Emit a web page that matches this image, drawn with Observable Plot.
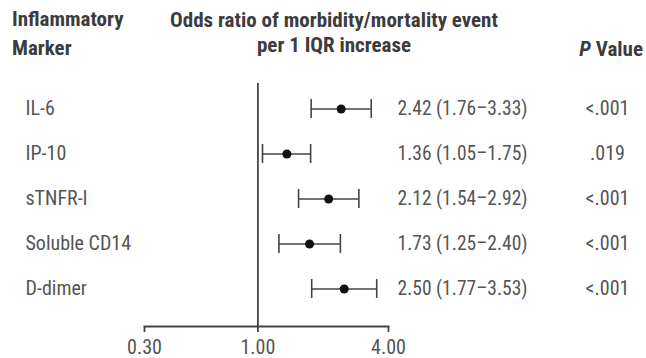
<!DOCTYPE html>
<html>
<head>
<meta charset="utf-8">
<script src="https://cdn.jsdelivr.net/npm/d3@7"></script>
<script src="https://cdn.jsdelivr.net/npm/@observablehq/plot@0.6"></script>
<style>
  html, body { margin: 0; padding: 0; background: #fff; }
  #wrap { position: relative; width: 646px; height: 358px; overflow: hidden;
          font-family: "Roboto Condensed", Roboto, sans-serif; font-stretch: condensed; }
  #wrap svg { position: absolute; left: 0; top: 0; }
  #wrap svg text { font-stretch: condensed; }
  .hdr { position: absolute; font-weight: bold; font-size: 21px; line-height: 21px; color: #3c3c3c; white-space: nowrap; }
  .c { transform: translateX(-50%); }
</style>
</head>
<body>
<div id="wrap">
  <div class="hdr" style="left:12px; top:9px;">Inflammatory</div>
  <div class="hdr" style="left:12px; top:38px;">Marker</div>
  <div class="hdr c" style="left:334px; top:10px;">Odds ratio of morbidity/mortality event</div>
  <div class="hdr c" style="left:334px; top:35px;">per 1 IQR increase</div>
  <div class="hdr" style="right:3px; top:39px;"><i>P</i> Value</div>
</div>
<script>
const markers = ["IL-6", "IP-10", "sTNFR-I", "Soluble CD14", "D-dimer"];
const oddsRatio = [2.42, 1.36, 2.12, 1.73, 2.50];
const ciLow = [1.76, 1.05, 1.54, 1.25, 1.77];
const ciHigh = [3.33, 1.75, 2.92, 2.40, 3.53];
const pValues = ["<.001", ".019", "<.001", "<.001", "<.001"];
const tickValues = [0.30, 1.00, 4.00];
const tickLabels = ["0.30", "1.00", "4.00"];

const fmt = d3.format(".2f");
const rows = markers.map((m, i) => ({
  marker: m, or: oddsRatio[i], lo: ciLow[i], hi: ciHigh[i], p: pValues[i],
  label: `${fmt(oddsRatio[i])} (${fmt(ciLow[i])}\u2013${fmt(ciHigh[i])})`
}));

const font = '"Roboto Condensed", Roboto, sans-serif';
const textColor = "#555";
const lineColor = "#444";

const chart = Plot.plot({
  width: 646,
  height: 358,
  marginLeft: 144,
  marginRight: 258,
  marginTop: 83,
  marginBottom: 32,
  style: { fontFamily: font, background: "transparent", color: textColor },
  x: { type: "log", domain: [0.3, 4] },
  y: { type: "band", domain: markers, range: [84, 313], padding: 0, axis: null },
  marks: [
    Plot.frame({ anchor: "bottom", stroke: lineColor, strokeWidth: 1.8 }),
    Plot.axisX({
      ticks: tickValues,
      tickFormat: (d) => tickLabels[tickValues.indexOf(d)],
      tickSize: 6,
      tickPadding: 7,
      stroke: lineColor,
      strokeWidth: 1.8,
      fontSize: 20,
      fill: textColor,
      label: null
    }),
    Plot.ruleX([1], { stroke: lineColor, strokeWidth: 1.8 }),
    Plot.ruleY(rows, { y: "marker", x1: "lo", x2: "hi", stroke: lineColor, strokeWidth: 1.6 }),
    Plot.tickX(rows, { y: "marker", x: "lo", stroke: lineColor, strokeWidth: 1.6, insetTop: 13, insetBottom: 13 }),
    Plot.tickX(rows, { y: "marker", x: "hi", stroke: lineColor, strokeWidth: 1.6, insetTop: 13, insetBottom: 13 }),
    Plot.dot(rows, { y: "marker", x: "or", r: 4.5, fill: "#111", stroke: "none" }),
    Plot.text(rows, { y: "marker", text: "marker", frameAnchor: "left", dx: -119, textAnchor: "start", fontSize: 20, fill: textColor }),
    Plot.text(rows, { y: "marker", text: "label", frameAnchor: "right", dx: 9, textAnchor: "start", fontSize: 19.5, fill: textColor }),
    Plot.text(rows, { y: "marker", text: "p", frameAnchor: "right", dx: 219, textAnchor: "middle", fontSize: 20, fill: textColor })
  ]
});
document.getElementById("wrap").appendChild(chart);
</script>
</body>
</html>
